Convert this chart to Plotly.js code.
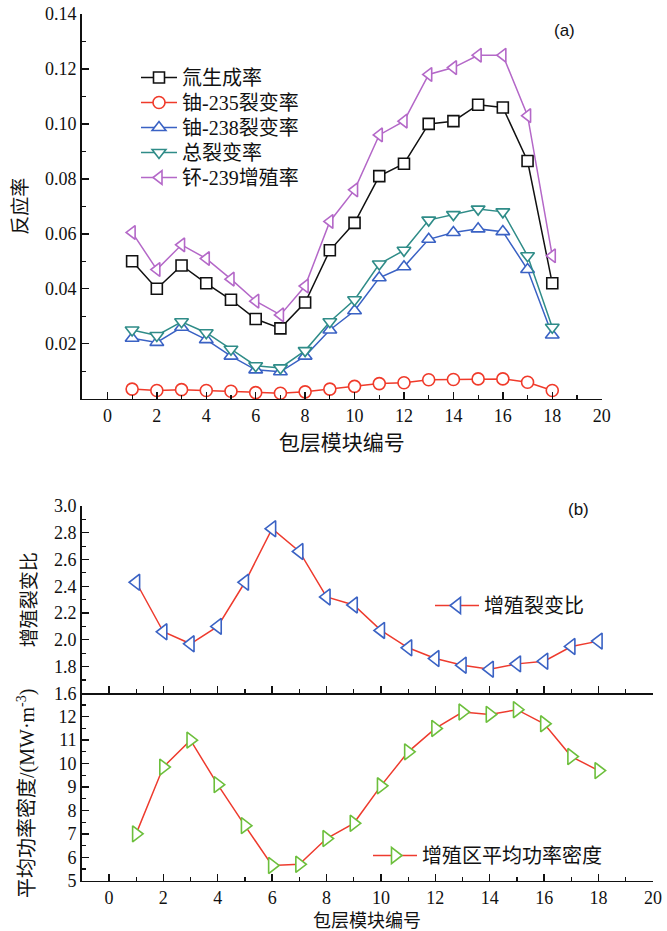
<!DOCTYPE html>
<html>
<head>
<meta charset="utf-8">
<script src="https://cdn.plot.ly/plotly-3.0.1.min.js"></script>
<style>
html,body{margin:0;padding:0;background:#ffffff;}
#chart{width:667px;height:931px;}
</style>
</head>
<body>
<div id="chart"></div>
<script>
// ---------- data ----------
const modules = [1,2,3,4,5,6,7,8,9,10,11,12,13,14,15,16,17,18];

const tritiumRate   = [0.050,0.040,0.0485,0.042,0.036,0.029,0.0256,0.035,0.054,0.064,0.081,0.0855,0.100,0.101,0.107,0.106,0.0865,0.042];
const u235Fission   = [0.0035,0.003,0.0033,0.003,0.0027,0.0022,0.002,0.0025,0.0035,0.0045,0.0055,0.0058,0.0069,0.007,0.0072,0.0072,0.006,0.003];
const u238Fission   = [0.022,0.0205,0.026,0.0215,0.0155,0.0105,0.0098,0.0155,0.025,0.032,0.044,0.048,0.058,0.0605,0.0618,0.0608,0.047,0.0232];
const totalFission  = [0.025,0.023,0.028,0.024,0.018,0.012,0.0112,0.0175,0.028,0.036,0.049,0.054,0.065,0.067,0.069,0.068,0.052,0.026];
const pu239Breeding = [0.0605,0.047,0.056,0.051,0.0435,0.0355,0.0305,0.041,0.0645,0.076,0.096,0.101,0.118,0.1205,0.125,0.125,0.103,0.052];

const breedFissionRatio = [2.43,2.06,1.97,2.10,2.43,2.83,2.66,2.32,2.26,2.07,1.94,1.86,1.81,1.78,1.82,1.84,1.95,1.99];
const powerDensity      = [7.0,9.85,11.0,9.1,7.35,5.65,5.7,6.8,7.45,9.05,10.5,11.5,12.2,12.1,12.3,11.7,10.3,9.7];

const namesA = ["氚生成率","铀-235裂变率","铀-238裂变率","总裂变率","钚-239增殖率"];
const nameRatio = "增殖裂变比";
const namePower = "增殖区平均功率密度";
const xTitle = "包层模块编号";
const yTitleA = "反应率";
const yTitleB1 = "增殖裂变比";
const yTitleB2 = "平均功率密度/(MW·m<sup>-3</sup>)";

const xTicksLabels = [0,2,4,6,8,10,12,14,16,18,20];
const yTicksA = [0.02,0.04,0.06,0.08,0.10,0.12,0.14];
const yTicksB1 = [1.6,1.8,2.0,2.2,2.4,2.6,2.8,3.0];
const yTicksB2 = [5,6,7,8,9,10,11,12];

// ---------- styling ----------
const SERIF = "Liberation Serif, Times New Roman, serif";
const MIX = "Liberation Serif, Noto Sans CJK SC, sans-serif";
const CJK = "Noto Sans CJK SC, sans-serif";

function series(y, name, color, symbol, size, xa, ya, legend, lineColor) {
  return {
    x: modules, y: y, name: name, type: "scatter", mode: "lines+markers",
    xaxis: xa, yaxis: ya, legend: legend,
    line: {color: lineColor || color, width: 1.5},
    marker: {symbol: symbol, size: size, color: "#ffffff", line: {color: color, width: 1.6}},
    cliponaxis: false
  };
}

const data = [
  series(tritiumRate, namesA[0], "#111111", "square", 11, "x", "y", "legend"),
  series(u235Fission, namesA[1], "#f03a2a", "circle", 12, "x", "y", "legend4"),
  series(u238Fission, namesA[2], "#3a62c4", "triangle-up", 12, "x", "y", "legend5"),
  series(totalFission, namesA[3], "#2f8c88", "triangle-down", 12, "x", "y", "legend6"),
  series(pu239Breeding, namesA[4], "#b468c8", "triangle-left", 12, "x", "y", "legend7"),
  series(breedFissionRatio, nameRatio, "#3a62c4", "triangle-left", 14, "x2", "y2", "legend2", "#ee3b2e"),
  series(powerDensity, namePower, "#6cbf3c", "triangle-right", 14, "x3", "y3", "legend3", "#ee3b2e")
];

const W = 667, H = 931;
const px = v => v / W;
const py = v => 1 - v / H;

function xAxis(domain, range, anchor, labels) {
  return {
    domain: domain, range: range, anchor: anchor,
    showline: true, linecolor: "#111", linewidth: 1.6,
    showgrid: false, zeroline: false,
    ticks: "inside", ticklen: 7, tickwidth: 1.4, tickcolor: "#111",
    tickmode: "array", tickvals: xTicksLabels, ticktext: xTicksLabels.map(String),
    showticklabels: labels,
    tickfont: {family: SERIF, size: 18, color: "#111"},
    minor: {dtick: 1, tick0: 0, ticks: "inside", ticklen: 4, tickwidth: 1.2, tickcolor: "#111", showgrid: false},
    fixedrange: true
  };
}
function yAxis(domain, range, anchor, vals, fmt, minorStep, title) {
  const ax = {
    domain: domain, range: range, anchor: anchor,
    showline: true, linecolor: "#111", linewidth: 1.6,
    showgrid: false, zeroline: false,
    ticks: "inside", ticklen: 7, tickwidth: 1.4, tickcolor: "#111",
    tickmode: "array", tickvals: vals, ticktext: vals.map(v => fmt(v)),
    tickfont: {family: SERIF, size: 18, color: "#111"},
    minor: {dtick: minorStep, tick0: 0, ticks: "inside", ticklen: 4, tickwidth: 1.2, tickcolor: "#111", showgrid: false},
    fixedrange: true
  };
  if (title) ax.title = {text: title, font: {family: MIX, size: 19, color: "#111"}, standoff: 12};
  return ax;
}

const xDomA = [px(81.7), px(601.7)];
const xDomB = [px(81.7), px(653)];

function legendAt(xPx, yTopPx, iw) {
  return {
    x: px(xPx), y: py(yTopPx), xanchor: "left", yanchor: "top",
    bgcolor: "rgba(0,0,0,0)", borderwidth: 0, itemwidth: iw,
    font: {family: MIX, size: 20, color: "#111"}
  };
}

const legTop = 58;   // top of first legend entry box
const legStep = 25;  // spacing between entries

const layout = {
  width: W, height: H,
  margin: {l: 0, r: 0, t: 0, b: 0},
  paper_bgcolor: "#ffffff", plot_bgcolor: "rgba(0,0,0,0)",
  showlegend: true,
  xaxis: Object.assign(xAxis(xDomA, [-1.04, 20], "y", true),
    {title: {text: xTitle, font: {family: CJK, size: 21, color: "#111"}, standoff: 2}}),
  yaxis: yAxis([py(398.7), py(14)], [0, 0.14], "x", yTicksA, v => v.toFixed(2), 0.01, yTitleA),
  xaxis2: xAxis(xDomB, [-1, 20], "y2", false),
  yaxis2: yAxis([py(693.3), py(506)], [1.6, 3.0], "x2", yTicksB1, v => v.toFixed(1), 0.1, yTitleB1),
  xaxis3: xAxis(xDomB, [-1, 20], "y3", true),
  yaxis3: yAxis([py(880.7), py(693.3)], [5, 13], "x3", yTicksB2, v => String(v), 0.5, null),
  legend:  legendAt(136, legTop, 36),
  legend4: legendAt(136, legTop + legStep, 36),
  legend5: legendAt(136, legTop + 2 * legStep, 36),
  legend6: legendAt(136, legTop + 3 * legStep, 36),
  legend7: legendAt(136, legTop + 4 * legStep, 36),
  legend2: legendAt(430, 586, 44),
  legend3: legendAt(368, 836, 44),
  annotations: [
    {text: "(a)", xref: "paper", yref: "paper", x: px(564), y: py(30), xanchor: "center", yanchor: "middle",
     showarrow: false, font: {family: "Liberation Sans, Arial, sans-serif", size: 17, color: "#111"}},
    {text: "(b)", xref: "paper", yref: "paper", x: px(578), y: py(509), xanchor: "center", yanchor: "middle",
     showarrow: false, font: {family: "Liberation Sans, Arial, sans-serif", size: 17, color: "#111"}},
    {text: xTitle, xref: "paper", yref: "paper", x: px(367), y: py(919), xanchor: "center", yanchor: "middle",
     borderpad: 0, showarrow: false, font: {family: CJK, size: 18, color: "#111"}},
    {text: yTitleB2, xref: "paper", yref: "paper", x: px(26), y: py(794), xanchor: "center", yanchor: "middle",
     textangle: -90, showarrow: false, font: {family: MIX, size: 20, color: "#111"}}
  ]
};

Plotly.newPlot("chart", data, layout, {staticPlot: true, displayModeBar: false});
</script>
</body>
</html>
